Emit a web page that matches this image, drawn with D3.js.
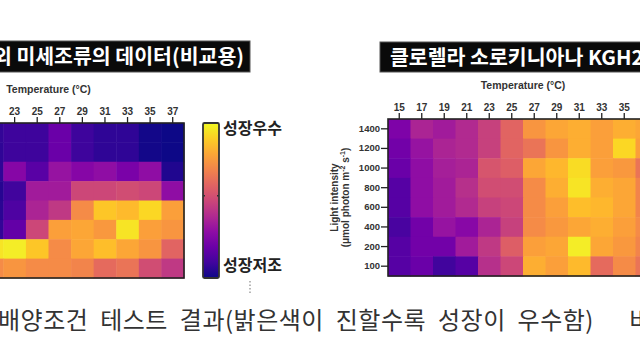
<!DOCTYPE html>
<html>
<head>
<meta charset="utf-8">
<script src="https://cdn.jsdelivr.net/npm/d3@7"></script>
<style>
  body { margin: 0; background: #fff; }
  svg { display: block; }
</style>
</head>
<body>
<div id="chart"></div>
<script>
// temperature columns (°C) and light rows (umol photon m-2 s-1)
const temps = [15, 17, 19, 21, 23, 25, 27, 29, 31, 33, 35, 37];
const lights = [1400, 1200, 1000, 800, 600, 400, 200, 100];

// left panel (comparison data), only columns 21..37 are in view
const leftTemps = [21, 23, 25, 27, 29, 31, 33, 35, 37];
const leftGrowth = [
    [0.07, 0.09, 0.09, 0.20, 0.09, 0.06, 0.06, 0.01, 0.00],
    [0.06, 0.09, 0.09, 0.20, 0.09, 0.06, 0.06, 0.01, 0.00],
    [0.06, 0.27, 0.16, 0.32, 0.27, 0.30, 0.24, 0.30, 0.03],
    [0.04, 0.10, 0.35, 0.35, 0.50, 0.50, 0.52, 0.50, 0.30],
    [0.05, 0.13, 0.38, 0.45, 0.72, 0.88, 0.85, 0.92, 0.78],
    [0.07, 0.18, 0.50, 0.78, 0.80, 0.76, 0.95, 0.78, 0.75],
    [0.95, 0.97, 0.88, 0.72, 0.80, 0.86, 0.80, 0.75, 0.60],
    [0.72, 0.75, 0.72, 0.72, 0.70, 0.62, 0.65, 0.52, 0.45]
];
const leftTicks = [23, 25, 27, 29, 31, 33, 35, 37];

// right panel, Chlorella sorokiniana
const rightGrowth = [
    [0.25, 0.38, 0.35, 0.40, 0.48, 0.60, 0.75, 0.80, 0.82, 0.78, 0.82, 0.80],
    [0.22, 0.32, 0.38, 0.40, 0.48, 0.60, 0.65, 0.75, 0.82, 0.78, 0.92, 0.78],
    [0.20, 0.30, 0.36, 0.38, 0.55, 0.58, 0.80, 0.84, 0.93, 0.78, 0.76, 0.65],
    [0.15, 0.30, 0.35, 0.42, 0.52, 0.52, 0.72, 0.82, 0.95, 0.82, 0.80, 0.70],
    [0.15, 0.30, 0.35, 0.40, 0.48, 0.50, 0.72, 0.78, 0.86, 0.84, 0.80, 0.70],
    [0.12, 0.22, 0.32, 0.28, 0.38, 0.48, 0.72, 0.76, 0.80, 0.82, 0.78, 0.72],
    [0.15, 0.22, 0.22, 0.35, 0.45, 0.58, 0.78, 0.80, 0.97, 0.80, 0.76, 0.70],
    [0.15, 0.20, 0.10, 0.15, 0.42, 0.50, 0.82, 0.78, 0.85, 0.62, 0.72, 0.65]
];
const rightTicks = [15, 17, 19, 21, 23, 25, 27, 29, 31, 33, 35];

const leftTitle = "국외 미세조류의 데이터(비교용)";
const rightTitle = "클로렐라 소로키니아나 KGH24";
const caption = "배양조건 테스트 결과(밝은색이 진할수록 성장이 우수함)";
const captionTail = "비교";

const W = 640, H = 360;
const svg = d3.select("#chart").append("svg")
    .attr("width", W)
    .attr("height", H);

const color = d3.scaleSequential(d3.interpolatePlasma).domain([0, 1]);
const latin = "'Liberation Sans', Arial, sans-serif";
const kor = "'Noto Sans CJK KR', sans-serif";

function heatmap(g, cols, data, ticks, xRange, yRange, showY) {
    const x = d3.scaleBand().domain(temps).range(xRange);
    const y = d3.scaleBand().domain(lights).range(yRange);

    data.forEach((row, i) => {
        g.selectAll(null)
            .data(row)
            .join("rect")
            .attr("x", (d, j) => x(cols[j]))
            .attr("y", y(lights[i]))
            .attr("width", x.bandwidth() + 0.5)
            .attr("height", y.bandwidth() + 0.5)
            .attr("fill", d => color(d));
    });

    // frame
    const x0 = x(cols[0]), x1 = xRange[1];
    g.append("rect")
        .attr("x", x0).attr("y", yRange[0])
        .attr("width", x1 - x0).attr("height", yRange[1] - yRange[0])
        .attr("fill", "none").attr("stroke", "#222").attr("stroke-width", 1.6);

    const top = g.append("g")
        .attr("transform", `translate(0,${yRange[0]})`)
        .call(d3.axisTop(x).tickValues(ticks).tickSize(6).tickPadding(2));
    top.select(".domain").remove();
    top.selectAll("line").attr("stroke", "#222").attr("stroke-width", 1.3);
    top.selectAll("text")
        .attr("font-family", latin).attr("font-weight", "bold")
        .attr("font-size", 10).attr("fill", "#333");

    g.append("text")
        .attr("x", (xRange[0] + xRange[1]) / 2)
        .attr("y", yRange[0] - 30)
        .attr("text-anchor", "middle")
        .attr("font-family", latin).attr("font-weight", "bold")
        .attr("font-size", 10.5).attr("fill", "#333")
        .text("Temperature (°C)");

    if (showY) {
        const left = g.append("g")
            .attr("transform", `translate(${xRange[0]},0)`)
            .call(d3.axisLeft(y).tickSize(7).tickPadding(1));
        left.select(".domain").remove();
        left.selectAll("line").attr("stroke", "#222").attr("stroke-width", 1.3);
        left.selectAll("text")
            .attr("font-family", latin).attr("font-weight", "bold")
            .attr("font-size", 9.5).attr("fill", "#333");

        const cy = (yRange[0] + yRange[1]) / 2;
        const yl = g.append("text")
            .attr("transform", `translate(${xRange[0] - 48},${cy}) rotate(-90)`)
            .attr("text-anchor", "middle")
            .attr("font-family", latin).attr("font-weight", "bold")
            .attr("font-size", 10).attr("fill", "#333");
        yl.append("tspan").attr("x", 0).attr("dy", -2).text("Light intensity");
        const u = yl.append("tspan").attr("x", 0).attr("dy", 11);
        u.append("tspan").text("(μmol photon m");
        u.append("tspan").attr("font-size", 7).attr("dy", -4).text("-2");
        u.append("tspan").attr("dy", 4).text(" s");
        u.append("tspan").attr("font-size", 7).attr("dy", -4).text("-1");
        u.append("tspan").attr("dy", 4).text(")");
    }
}

function titleBox(x, y, w, h, txt, anchor, tx) {
    svg.append("rect")
        .attr("x", x).attr("y", y).attr("width", w).attr("height", h)
        .attr("fill", "#0a0a0a")
        .attr("stroke", "#555").attr("stroke-width", 1);
    svg.append("text")
        .attr("x", tx).attr("y", y + h / 2 + 7.5)
        .attr("text-anchor", anchor)
        .attr("font-family", kor).attr("font-weight", "bold")
        .attr("font-size", 20.5).attr("fill", "#fff")
        .text(txt);
}

titleBox(-20, 41, 270, 31, leftTitle, "end", 244);
titleBox(380, 42, 300, 30, rightTitle, "start", 390);

// left panel: 15..37 band, 23 centred near x=15
heatmap(svg.append("g"), leftTemps, leftGrowth, leftTicks, [-87, 184], [123, 278], false);
// right panel
heatmap(svg.append("g"), temps, rightGrowth, rightTicks, [388, 658], [119, 276], true);

// colour bar
const cb = { x: 203, y: 123, w: 16, h: 155 };
const grad = svg.append("defs").append("linearGradient")
    .attr("id", "plasma").attr("x1", 0).attr("y1", 1).attr("x2", 0).attr("y2", 0);
d3.range(0, 1.01, 0.1).forEach(t => {
    grad.append("stop").attr("offset", t).attr("stop-color", color(t));
});
svg.append("rect")
    .attr("x", cb.x).attr("y", cb.y).attr("width", cb.w).attr("height", cb.h)
    .attr("rx", 1.5)
    .attr("fill", "url(#plasma)").attr("stroke", "#333").attr("stroke-width", 1.8);
[cb.x, cb.x + cb.w - 2].forEach(px => {
    svg.append("line")
        .attr("x1", px).attr("x2", px + 2)
        .attr("y1", cb.y + cb.h * 0.47).attr("y2", cb.y + cb.h * 0.47)
        .attr("stroke", "#333").attr("stroke-width", 1.5);
});
svg.append("text")
    .attr("x", cb.x + cb.w + 4).attr("y", 134)
    .attr("font-family", kor).attr("font-weight", "bold")
    .attr("font-size", 16).attr("fill", "#222")
    .text("성장우수");
svg.append("text")
    .attr("x", cb.x + cb.w + 4).attr("y", 271)
    .attr("font-family", kor).attr("font-weight", "bold")
    .attr("font-size", 16).attr("fill", "#222")
    .text("성장저조");

// small dotted separator
svg.append("line")
    .attr("x1", 250).attr("x2", 250).attr("y1", 281).attr("y2", 295)
    .attr("stroke", "#888").attr("stroke-width", 1.2).attr("stroke-dasharray", "1.5,2");

// caption
const cap = svg.append("text")
    .attr("x", -2).attr("y", 329)
    .attr("font-family", kor)
    .attr("font-size", 24).attr("fill", "#333")
    .attr("letter-spacing", 0.5)
    .attr("word-spacing", 6);
cap.append("tspan").text(caption);
cap.append("tspan").attr("x", 629).text(captionTail);
</script>
</body>
</html>
